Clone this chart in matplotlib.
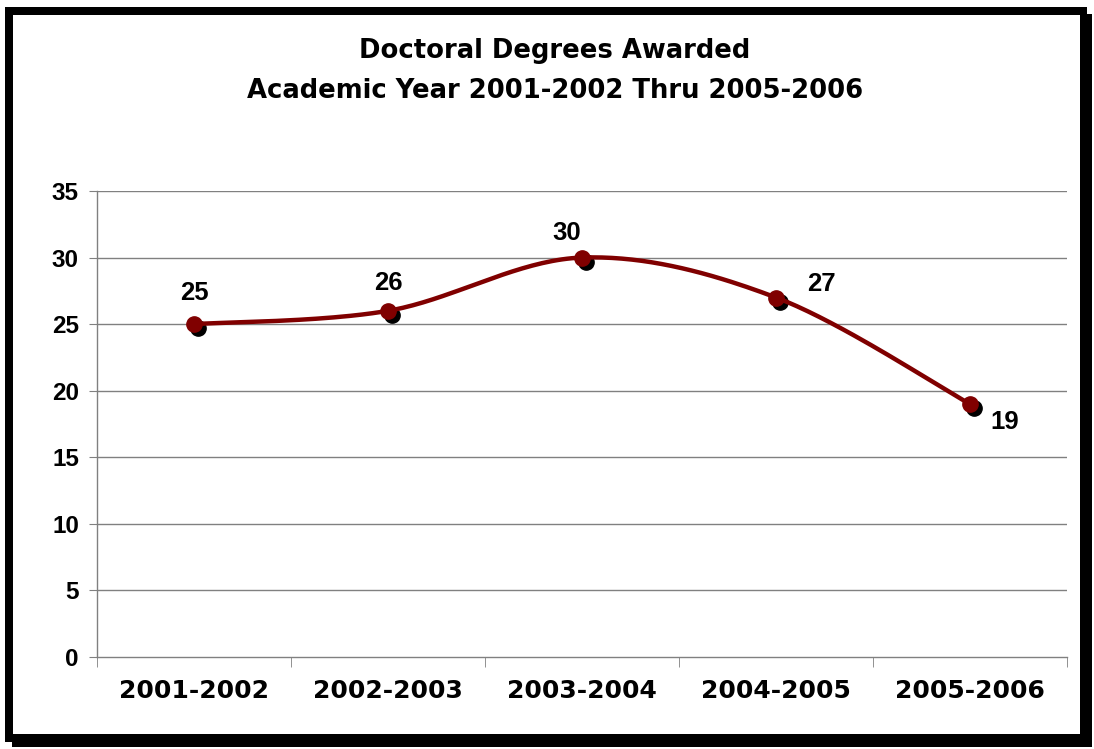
import matplotlib
matplotlib.use("Agg")
import matplotlib.pyplot as plt
import matplotlib.transforms as mtransforms
from matplotlib.patches import Rectangle
import numpy as np

categories = ["2001-2002", "2002-2003", "2003-2004", "2004-2005", "2005-2006"]
values = [25, 26, 30, 27, 19]
title = "Doctoral Degrees Awarded\nAcademic Year 2001-2002 Thru 2005-2006"
yticks = [0, 5, 10, 15, 20, 25, 30, 35]

plt.rcParams['font.family'] = ['Liberation Sans', 'DejaVu Sans']

W, H, DPI = 1094, 749, 100
fig = plt.figure(figsize=(W / DPI, H / DPI), dpi=DPI)
fig.patch.set_facecolor('white')

# frame with shadow
fig.add_artist(Rectangle((12 / W, 1 - 747 / H), (1092 - 12) / W, (747 - 14) / H,
                         transform=fig.transFigure, facecolor='black', edgecolor='none', zorder=0))
fig.add_artist(Rectangle((5 / W, 1 - 742 / H), (1087 - 5) / W, (742 - 7) / H,
                         transform=fig.transFigure, facecolor='black', edgecolor='none', zorder=0))
fig.add_artist(Rectangle((13 / W, 1 - 734 / H), (1080 - 13) / W, (734 - 15) / H,
                         transform=fig.transFigure, facecolor='white', edgecolor='none', zorder=0))

ax = fig.add_axes([97 / W, 1 - 657 / H, (1067 - 97) / W, (657 - 191) / H])
ax.set_facecolor('none')
n = len(categories)
x = np.arange(n)
ax.set_xlim(-0.5, n - 0.5)
ax.set_ylim(0, 35)

for y in yticks[1:]:
    ax.axhline(y, color='#808080', lw=1.0, zorder=1)

for s in ['top', 'right']:
    ax.spines[s].set_visible(False)
for s in ['left', 'bottom']:
    ax.spines[s].set_color('#808080')
    ax.spines[s].set_linewidth(1.0)

ax.set_yticks(yticks)
ax.set_yticklabels([str(v) for v in yticks], fontsize=17.5, fontweight='bold')
ax.tick_params(axis='y', length=6, color='#808080', pad=7)
ax.set_xticks(x)
ax.set_xticklabels(categories, fontsize=18, fontweight='bold', family='DejaVu Sans')
ax.tick_params(axis='x', length=0, pad=16)
ax.set_xticks(np.arange(n + 1) - 0.5, minor=True)
ax.tick_params(axis='x', which='minor', length=7, color='#808080')

# Excel-like smoothed curve (Catmull-Rom as cubic Bezier)
px = np.array(x, dtype=float)
py = np.array(values, dtype=float)
curve_x, curve_y = [], []
t = np.linspace(0, 1, 40)
for i in range(n - 1):
    p0 = np.array([px[max(i - 1, 0)], py[max(i - 1, 0)]])
    p1 = np.array([px[i], py[i]])
    p2 = np.array([px[i + 1], py[i + 1]])
    p3 = np.array([px[min(i + 2, n - 1)], py[min(i + 2, n - 1)]])
    c1 = p1 + (p2 - p0) / 6.0
    c2 = p2 - (p3 - p1) / 6.0
    for tt in t:
        b = ((1 - tt) ** 3) * p1 + 3 * ((1 - tt) ** 2) * tt * c1 + 3 * (1 - tt) * tt ** 2 * c2 + tt ** 3 * p2
        curve_x.append(b[0]); curve_y.append(b[1])

ax.plot(curve_x, curve_y, color='#800000', lw=3.2, zorder=3, solid_capstyle='round')
shadow = mtransforms.offset_copy(ax.transData, fig=fig, x=4, y=-4, units='dots')
ax.plot(px, py, 'o', color='black', ms=11, transform=shadow, zorder=2, clip_on=False)
ax.plot(px, py, 'o', color='#800000', ms=11, zorder=4, clip_on=False)

offsets = [(0, 31), (0, 28), (-15, 25), (45, 14), (35, -18)]
for xi, yi, (dx, dy) in zip(px, py, offsets):
    ax.annotate(str(int(yi)), (xi, yi), xytext=(dx, dy), textcoords='offset pixels',
                ha='center', va='center', fontsize=18.5, fontweight='bold', zorder=5)

fig.text(555 / W, 1 - 71 / H, title, ha='center', va='center', fontsize=18.6,
         fontweight='bold', family='DejaVu Sans', linespacing=1.65)

fig.savefig('out.png', dpi=DPI)
